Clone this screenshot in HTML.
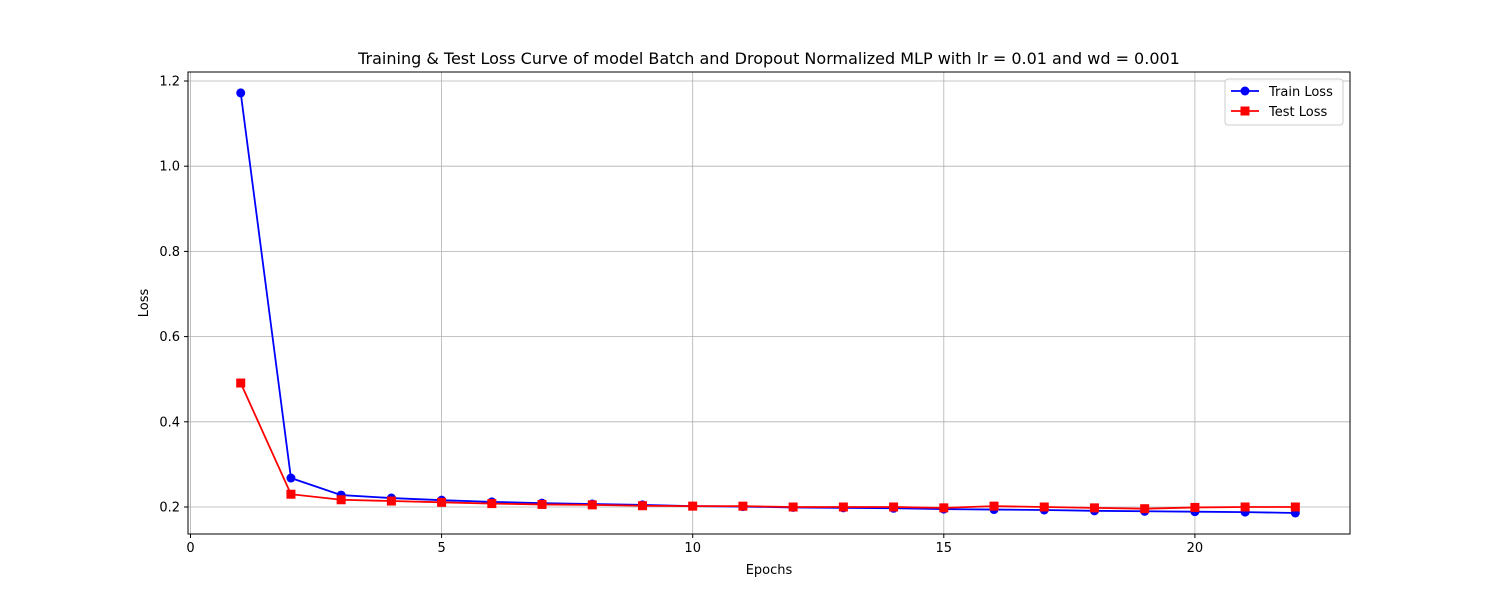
<!DOCTYPE html>
<html><head><meta charset="utf-8"><style>body{margin:0;background:#fff}svg{display:block;font-family:"DejaVu Sans","Liberation Sans",sans-serif}</style></head>
<body>
<svg id="chart" width="1500" height="600"></svg>
<script>
const epochs=[1,2,3,4,5,6,7,8,9,10,11,12,13,14,15,16,17,18,19,20,21,22];
const trainLoss=[1.172,0.268,0.228,0.221,0.216,0.212,0.209,0.207,0.205,0.202,0.201,0.199,0.198,0.197,0.195,0.194,0.193,0.191,0.190,0.189,0.188,0.186];
const testLoss=[0.491,0.230,0.217,0.214,0.211,0.208,0.206,0.205,0.203,0.202,0.202,0.200,0.200,0.200,0.198,0.202,0.200,0.198,0.196,0.199,0.200,0.200];
const xTicks=[0,5,10,15,20];
const yTicks=[0.2,0.4,0.6,0.8,1.0,1.2];
const L=188,R=1350,T=72,B=534;
const X=v=>190.5+(v)*50.22;
const Y=v=>507-(v-0.2)*426;
const svg=document.getElementById('chart');const NS='http://www.w3.org/2000/svg';
function mk(t,a,p){const e=document.createElementNS(NS,t);for(const k in a)e.setAttribute(k,a[k]);(p||svg).appendChild(e);return e;}
let e;
xTicks.forEach(v=>{
e=mk('line',{x1:X(v),x2:X(v),y1:T,y2:B,stroke:'#b0b0b0','stroke-width':0.8});


mk('line',{x1:X(v),x2:X(v),y1:B,y2:B+4,stroke:'#000'});
e=mk('text',{x:X(v),y:B+18,'text-anchor':'middle','font-size':13});e.textContent=v;


});
yTicks.forEach(v=>{
e=mk('line',{x1:L,x2:R,y1:Y(v),y2:Y(v),stroke:'#b0b0b0','stroke-width':0.8});


mk('line',{x1:L-4,x2:L,y1:Y(v),y2:Y(v),stroke:'#000'});
e=mk('text',{x:L-8,y:Y(v)+4.5,'text-anchor':'end','font-size':13});e.textContent=v.toFixed(1);


});
e=mk('rect',{x:L,y:T,width:R-L,height:B-T,fill:'none',stroke:'#000','stroke-width':1});


function series(vals,color,sq,name){
e=mk('polyline',{points:vals.map((v,i)=>X(epochs[i])+','+Y(v)).join(' '),fill:'none',stroke:color,'stroke-width':1.8});


vals.forEach((v,i)=>{
if(sq)e=mk('rect',{x:X(epochs[i])-4.5,y:Y(v)-4.5,width:9,height:9,fill:color});
else e=mk('circle',{cx:X(epochs[i]),cy:Y(v),r:4.5,fill:color});


});
}
series(trainLoss,'#0000ff',false,'train-loss');
series(testLoss,'#ff0000',true,'test-loss');
e=mk('text',{x:769,y:64,'text-anchor':'middle','font-size':16});e.textContent='Training & Test Loss Curve of model Batch and Dropout Normalized MLP with lr = 0.01 and wd = 0.001';


e=mk('text',{x:769,y:574,'text-anchor':'middle','font-size':13});e.textContent='Epochs';


e=mk('text',{x:148,y:303,'text-anchor':'middle','font-size':13,transform:'rotate(-90 148 303)'});e.textContent='Loss';


const lg=mk('g',{});


mk('rect',{x:1225,y:79,width:118,height:46,rx:3,fill:'#fff','fill-opacity':0.8,stroke:'#ccc'},lg);
mk('line',{x1:1231,x2:1259,y1:91,y2:91,stroke:'#0000ff','stroke-width':1.8},lg);
mk('circle',{cx:1245,cy:91,r:4.5,fill:'#0000ff'},lg);
e=mk('text',{x:1269,y:96,'font-size':13},lg);e.textContent='Train Loss';


mk('line',{x1:1231,x2:1259,y1:111,y2:111,stroke:'#ff0000','stroke-width':1.8},lg);
mk('rect',{x:1240.5,y:106.5,width:9,height:9,fill:'#ff0000'},lg);
e=mk('text',{x:1269,y:116,'font-size':13},lg);e.textContent='Test Loss';


</script>
</body></html>
